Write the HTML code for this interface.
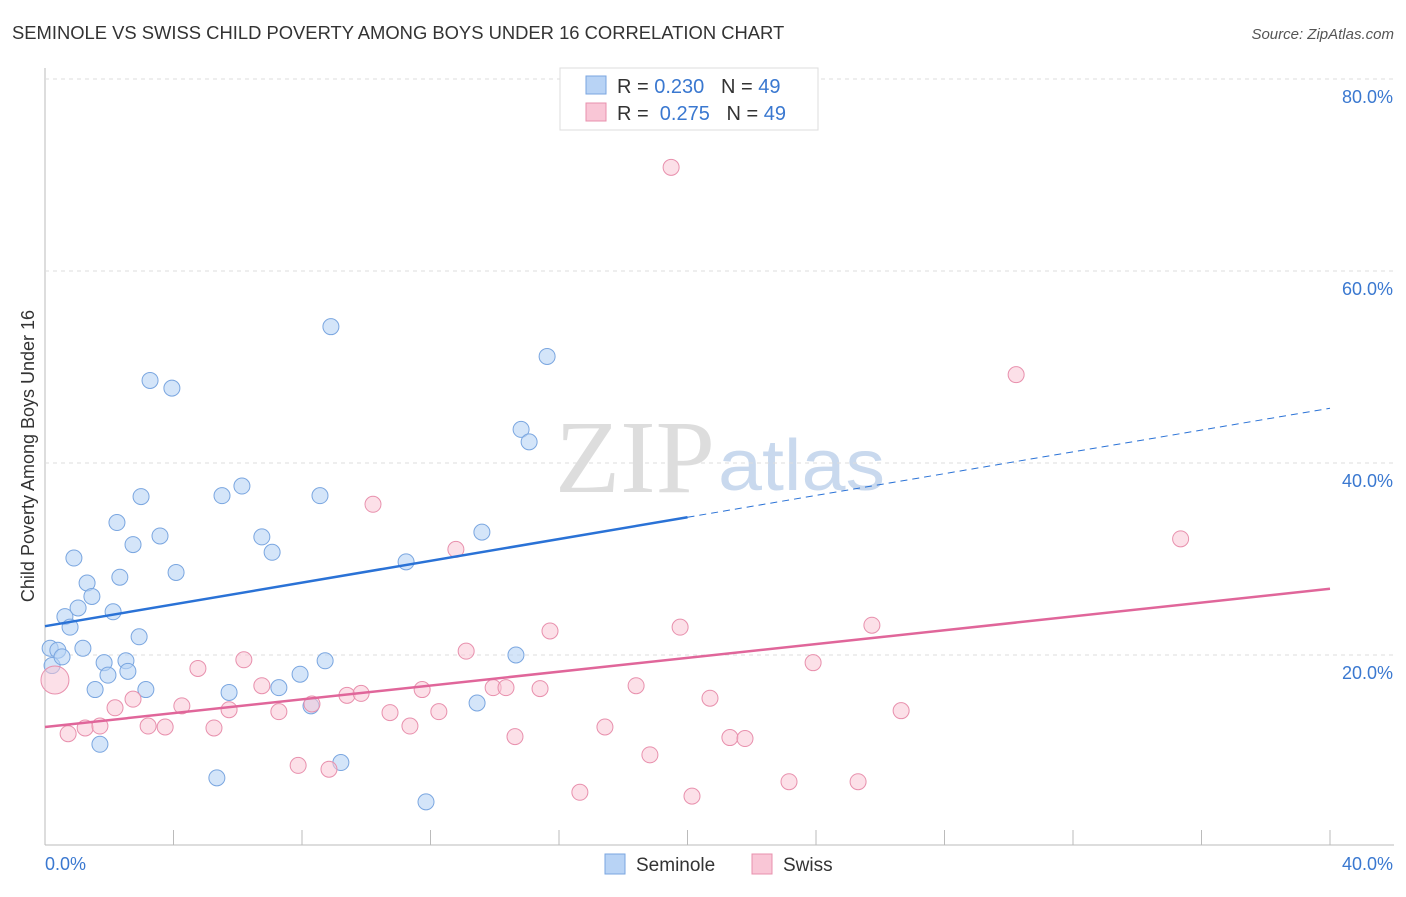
<!DOCTYPE html>
<html><head><meta charset="utf-8"><style>
body{margin:0;background:#fff;font-family:"Liberation Sans",sans-serif;}
</style></head><body>
<svg id="c" width="1406" height="892" xmlns="http://www.w3.org/2000/svg">
<text x="12" y="39" font-size="18.4" fill="#333">SEMINOLE VS SWISS CHILD POVERTY AMONG BOYS UNDER 16 CORRELATION CHART</text>
<text x="1394" y="39" font-size="15" fill="#555" text-anchor="end" font-style="italic">Source: ZipAtlas.com</text>
<text x="715" y="492" font-size="104" fill="#ddd" text-anchor="end" font-family="Liberation Serif" textLength="160" lengthAdjust="spacingAndGlyphs">ZIP</text>
<text x="718" y="490" font-size="72" fill="#c9d9ee" textLength="167" lengthAdjust="spacingAndGlyphs">atlas</text>
<text x="34" y="456" font-size="18" fill="#333" text-anchor="middle" transform="rotate(-90 34 456)">Child Poverty Among Boys Under 16</text>
<g id="grid"></g><g id="marks"></g>
<g>
<rect x="560" y="68" width="258" height="62" fill="#fff" stroke="#ddd"/>
<rect x="586" y="76" width="20" height="18" fill="#b8d3f5" stroke="#7aa6e0"/>
<rect x="586" y="103" width="20" height="18" fill="#f9c6d6" stroke="#e890ad"/>
<text x="617" y="93" font-size="20" fill="#333">R = <tspan fill="#3a78d0">0.230</tspan>&#160;&#160;&#160;N = <tspan fill="#3a78d0">49</tspan></text>
<text x="617" y="120" font-size="20" fill="#333">R = &#160;<tspan fill="#3a78d0">0.275</tspan>&#160;&#160;&#160;N = <tspan fill="#3a78d0">49</tspan></text>
</g>
<g>
<rect x="605" y="854" width="20" height="20" fill="#b8d3f5" stroke="#7aa6e0"/>
<text x="636" y="871" font-size="19" fill="#333">Seminole</text>
<rect x="752" y="854" width="20" height="20" fill="#f9c6d6" stroke="#e890ad"/>
<text x="783" y="871" font-size="19" fill="#333">Swiss</text>
</g>
</svg>
<script>
const yTicks=[20,40,60,80];
const xTickLabels=["0.0%","40.0%"];
const semX=[0.16,0.22,0.40,0.53,0.62,0.78,0.90,1.03,1.18,1.31,1.46,1.56,1.71,1.84,1.96,2.12,2.24,2.33,2.52,2.58,2.74,2.93,2.99,3.14,3.27,3.58,3.95,4.08,5.35,5.51,5.73,6.13,6.75,7.07,7.28,7.94,8.28,8.56,8.72,8.90,9.21,11.24,11.86,13.45,13.60,14.66,14.82,15.07,15.63];
const semY=[20.7,18.9,20.5,19.8,24.0,22.9,30.1,24.9,20.7,27.5,26.1,16.4,10.7,19.2,17.9,24.5,33.8,28.1,19.4,18.3,31.5,21.9,36.5,16.4,48.6,32.4,47.8,28.6,7.2,36.6,16.1,37.6,32.3,30.7,16.6,18.0,14.7,36.6,19.4,54.2,8.8,29.7,4.7,15.0,32.8,20.0,43.5,42.2,51.1];
const swiX=[0.31,0.72,1.25,1.71,2.18,2.74,3.21,3.74,4.26,4.76,5.26,5.73,6.19,6.75,7.28,7.88,8.31,8.84,9.40,9.84,10.21,10.74,11.36,11.74,12.26,12.79,13.11,13.95,14.35,14.63,15.41,15.72,16.65,17.43,18.40,18.83,19.49,19.77,20.14,20.70,21.32,21.79,23.16,23.91,25.31,25.74,26.65,30.23,35.35];
const swiY=[17.4,11.8,12.4,12.6,14.5,15.4,12.6,12.5,14.7,18.6,12.4,14.3,19.5,16.8,14.1,8.5,14.9,8.1,15.8,16.0,35.7,14.0,12.6,16.4,14.1,31.0,20.4,16.6,16.6,11.5,16.5,22.5,5.7,12.5,16.8,9.6,70.8,22.9,5.3,15.5,11.4,11.3,6.8,19.2,6.8,23.1,14.2,49.2,32.1];
const semTrend=[23.0,45.7];
const swiTrend=[12.5,26.9];
const X=v=>45+v*32.125, Y=v=>847-v*9.6;
const NS="http://www.w3.org/2000/svg";
function mk(p,t,a){const e=document.createElementNS(NS,t);for(const k in a)e.setAttribute(k,a[k]);p.appendChild(e);return e;}
const g=document.getElementById('grid'), m=document.getElementById('marks');
let l=mk(g,'line',{x1:45,x2:1394,y1:845,y2:845,stroke:'#bbb'});


l=mk(g,'line',{x1:45,x2:45,y1:68,y2:845,stroke:'#bbb'});


yTicks.forEach(t=>{
 let gl=mk(g,'line',{x1:45,x2:1394,y1:Y(t),y2:Y(t),stroke:'#ddd','stroke-dasharray':'4,4'});
 
 
 let tx=mk(g,'text',{x:1393,y:Y(t)+24,'font-size':18,fill:'#3a78d0','text-anchor':'end'});tx.textContent=t.toFixed(1)+'%';
 
 
});
for(let i=0;i<=10;i++){let tk=mk(g,'line',{x1:X(i*4),x2:X(i*4),y1:830,y2:845,stroke:'#bbb'});
 
 }
let a=mk(g,'text',{x:45,y:870,'font-size':18,fill:'#3a78d0'});a.textContent=xTickLabels[0];


a=mk(g,'text',{x:1393,y:870,'font-size':18,fill:'#3a78d0','text-anchor':'end'});a.textContent=xTickLabels[1];


semX.forEach((x,i)=>{const c=mk(m,'circle',{cx:X(x),cy:Y(semY[i]),r:8,fill:'#b8d3f5','fill-opacity':0.6,stroke:'#7aa6e0'});
 
 });
swiX.forEach((x,i)=>{const c=mk(m,'circle',{cx:X(x),cy:Y(swiY[i]),r:i==0?14:8,fill:'#f9c6d6','fill-opacity':0.55,stroke:'#e890ad'});
 
 });
const sy=x=>semTrend[0]+(semTrend[1]-semTrend[0])*x/40;
l=mk(m,'line',{x1:X(0),y1:Y(sy(0)),x2:X(20),y2:Y(sy(20)),stroke:'#2a72d6','stroke-width':2.5});


l=mk(m,'line',{x1:X(20),y1:Y(sy(20)),x2:X(40),y2:Y(sy(40)),stroke:'#2a72d6','stroke-width':1,'stroke-dasharray':'7,5'});


l=mk(m,'line',{x1:X(0),y1:Y(swiTrend[0]),x2:X(40),y2:Y(swiTrend[1]),stroke:'#e0669a','stroke-width':2.5});


</script>
</body></html>
